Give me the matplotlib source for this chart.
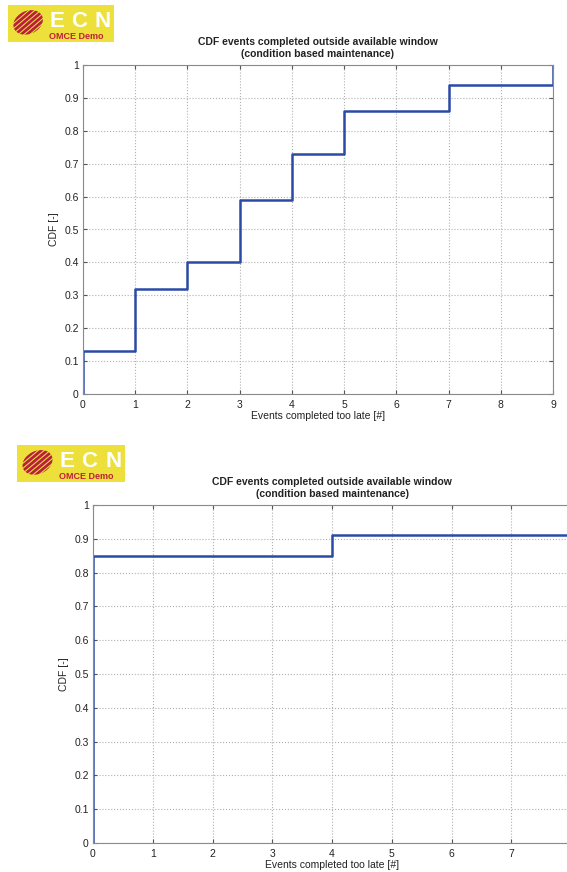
import numpy as np
import matplotlib
matplotlib.use('Agg')
from matplotlib import pyplot as plt
from matplotlib.patches import Ellipse, Rectangle

plt.rcParams['font.family'] = ['Liberation Sans', 'DejaVu Sans']

# data
late_top = [0, 1, 2, 3, 4, 5, 7, 9]
cdf_top = [0.13, 0.32, 0.40, 0.59, 0.73, 0.86, 0.94, 1.00]
late_bot = [0, 4]
cdf_bot = [0.85, 0.91]
xmax_top = 9
xmax_bot = 8
xticks_top = list(range(0, 10))
xticks_bot = list(range(0, 8))

title = 'CDF events completed outside available window\n(condition based maintenance)'
xlab = 'Events completed too late [#]'
ylab = 'CDF [-]'

W, H = 567, 872
fig = plt.figure(figsize=(W / 100, H / 100), dpi=100)
blue = '#2b4aa6'


def logo(x0, y0, w, h):
    ax = fig.add_axes([x0 / W, 1 - (y0 + h) / H, w / W, h / H])
    ax.set_xlim(0, w)
    ax.set_ylim(h, 0)
    ax.axis('off')
    ax.add_patch(Rectangle((0, 0), w, h, color='#ede03a'))
    ell = Ellipse((w * 0.19, h * 0.47), w * 0.29, h * 0.62, angle=-25,
                  facecolor='none', edgecolor='none')
    ax.add_patch(ell)
    for k in range(-8, 9):
        ln, = ax.plot([w * 0.0, w * 0.45], [h * 1.1 + k * 5, h * 0.0 + k * 5],
                      color='#b8203c', lw=2.0, solid_capstyle='butt')
        ln.set_clip_path(ell)
    for xf, ch in zip([0.46, 0.67, 0.89], 'ECN'):
        ax.text(w * xf, h * 0.44, ch, color='white', fontsize=16,
                ha='center', va='center', fontweight='bold')
    ax.text(w * 0.64, h * 0.85, 'OMCE Demo', color='#c0203a', fontsize=6.5,
            ha='center', va='center', fontweight='bold')


def panel(rect, xs, ys, xmax, xticks):
    l, r, t, b = rect
    ax = fig.add_axes([l / W, 1 - b / H, (r - l) / W, (b - t) / H])
    x = np.r_[0, xs, xmax]
    y = np.r_[0, ys, ys[-1]]
    ax.step(x, y, where='post', color=blue, lw=1.8)
    ax.set_xlim(0, xmax)
    ax.set_ylim(0, 1)
    ax.set_xticks(xticks)
    ax.set_yticks(np.round(np.arange(0, 1.01, 0.1), 1))
    ax.set_yticklabels(['0'] + ['%.1f' % v for v in np.arange(0.1, 0.95, 0.1)] + ['1'])
    ax.grid(True, linestyle=':', color='#b0b0b0', lw=0.8)
    ax.tick_params(labelsize=7.5, length=3, direction='in', colors='#555555',
                   labelcolor='#222222', top=True, right=True)
    ax.tick_params(axis='x', pad=4)
    ax.tick_params(axis='y', pad=3)
    for s in ax.spines.values():
        s.set_color('#8a8a8a')
    ax.set_title(title, fontsize=7.5, fontweight='bold', pad=6, color='#222222')
    ax.set_xlabel(xlab, fontsize=7.5, labelpad=1, color='#222222')
    ax.set_ylabel(ylab, fontsize=7.5, labelpad=4, color='#222222')
    return ax


logo(8, 5, 106, 37)
logo(17, 445, 108, 37)

panel((83, 553, 65, 394), late_top, cdf_top, xmax_top, xticks_top)
panel((93, 571, 505, 843), late_bot, cdf_bot, xmax_bot, xticks_bot)

fig.savefig('out.png', dpi=100)
